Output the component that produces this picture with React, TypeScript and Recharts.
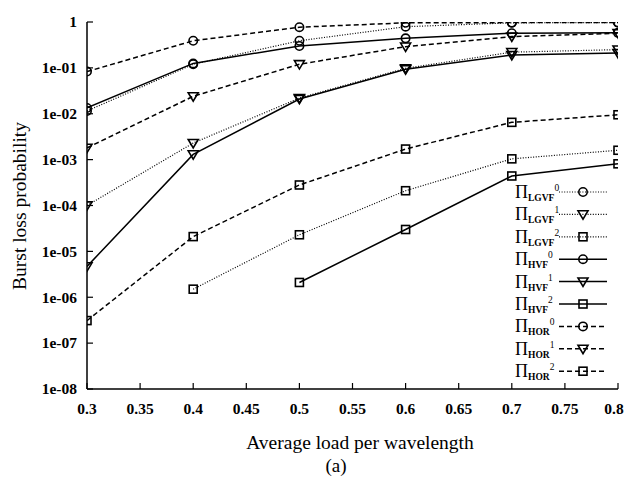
import React from 'react';
import { LineChart, Line, XAxis, YAxis, Customized } from 'recharts';

// ---------- data ----------
const loads = [0.3, 0.4, 0.5, 0.6, 0.7, 0.8];
const lgvf0 = [0.0115, 0.12, 0.39, 0.79, 0.96, 0.97];
const lgvf1 = [1.0e-4, 0.0023, 0.022, 0.098, 0.22, 0.25];
const lgvf2 = [null, 1.5e-6, 2.3e-5, 2.1e-4, 1.04e-3, 1.6e-3];
const hvf0 = [0.0134, 0.125, 0.3, 0.44, 0.57, 0.58];
const hvf1 = [4.7e-6, 0.0013, 0.021, 0.093, 0.19, 0.21];
const hvf2 = [null, null, 2.1e-6, 3.0e-5, 4.4e-4, 8.1e-4];
const hor0 = [0.083, 0.39, 0.77, 0.96, 0.97, 0.98];
const hor1 = [0.0018, 0.024, 0.12, 0.29, 0.48, 0.57];
const hor2 = [3.1e-7, 2.1e-5, 2.8e-4, 1.7e-3, 6.5e-3, 9.5e-3];

const xTicks = [0.3, 0.35, 0.4, 0.45, 0.5, 0.55, 0.6, 0.65, 0.7, 0.75, 0.8];
const xTickLabels = ['0.3', '0.35', '0.4', '0.45', '0.5', '0.55', '0.6', '0.65', '0.7', '0.75', '0.8'];
const yTicks = [1e-8, 1e-7, 1e-6, 1e-5, 1e-4, 1e-3, 1e-2, 1e-1, 1];
const yTickLabels = ['1e-08', '1e-07', '1e-06', '1e-05', '1e-04', '1e-03', '1e-02', '1e-01', '1'];
const minorMultipliers = [2, 3, 4, 5, 6, 7, 8, 9];
const yMinorTicks = yTicks.slice(0, -1).flatMap((d) => minorMultipliers.map((m) => m * d));

const xTitle = 'Average load per wavelength';
const yTitle = 'Burst loss probability';
const caption = '(a)';

type Style = 'dot' | 'solid' | 'dash';
type Marker = 'circle' | 'tri' | 'square';
const series: { key: string; sub: string; sup: string; style: Style; marker: Marker; values: (number | null)[] }[] = [
  { key: 'lgvf0', sub: 'LGVF', sup: '0', style: 'dot', marker: 'circle', values: lgvf0 },
  { key: 'lgvf1', sub: 'LGVF', sup: '1', style: 'dot', marker: 'tri', values: lgvf1 },
  { key: 'lgvf2', sub: 'LGVF', sup: '2', style: 'dot', marker: 'square', values: lgvf2 },
  { key: 'hvf0', sub: 'HVF', sup: '0', style: 'solid', marker: 'circle', values: hvf0 },
  { key: 'hvf1', sub: 'HVF', sup: '1', style: 'solid', marker: 'tri', values: hvf1 },
  { key: 'hvf2', sub: 'HVF', sup: '2', style: 'solid', marker: 'square', values: hvf2 },
  { key: 'hor0', sub: 'HOR', sup: '0', style: 'dash', marker: 'circle', values: hor0 },
  { key: 'hor1', sub: 'HOR', sup: '1', style: 'dash', marker: 'tri', values: hor1 },
  { key: 'hor2', sub: 'HOR', sup: '2', style: 'dash', marker: 'square', values: hor2 },
];

const data = loads.map((x, i) => {
  const row: Record<string, number | null> = { x };
  series.forEach((s) => {
    row[s.key] = s.values[i];
  });
  return row;
});

// ---------- styles ----------
const FONT = '"Liberation Serif", "Times New Roman", serif';
const TICK_SIZE = 15.5;
const dashFor = (s: Style) => (s === 'dot' ? '1 1.6' : s === 'dash' ? '5 3' : undefined);
const widthFor = (s: Style) => (s === 'dot' ? 1.2 : 1.5);

function MarkerShape({ kind, cx, cy }: { kind: Marker; cx: number; cy: number }) {
  const common = { fill: 'none', stroke: '#000', strokeWidth: 1.6 };
  if (kind === 'circle') return <circle cx={cx} cy={cy} r={4.2} {...common} />;
  if (kind === 'tri')
    return (
      <polygon
        points={`${cx - 5},${cy - 3.6} ${cx + 5},${cy - 3.6} ${cx},${cy + 4.8}`}
        {...common}
      />
    );
  return <rect x={cx - 4} y={cy - 4} width={8} height={8} {...common} />;
}

const makeDot = (kind: Marker, key: string) => (props: any) => {
  const { cx, cy, index, value } = props;
  if (cx == null || cy == null || value == null || Number.isNaN(cx) || Number.isNaN(cy)) {
    return <g key={`${key}-${index}`} />;
  }
  return (
    <g key={`${key}-${index}`}>
      <MarkerShape kind={kind} cx={cx} cy={cy} />
    </g>
  );
};

function XTick(props: any) {
  const { x, y, payload, index } = props;
  const label = xTickLabels[xTicks.indexOf(payload.value)] ?? String(payload.value);
  const isLast = index === xTicks.length - 1;
  return (
    <text
      x={isLast ? x - 4 : x}
      y={y}
      dy="0.71em"
      textAnchor="middle"
      fontFamily={FONT}
      fontSize={TICK_SIZE}
      fontWeight="bold"
      fill="#000"
    >
      {label}
    </text>
  );
}

function YTick(props: any) {
  const { x, y, payload } = props;
  const label = yTickLabels[yTicks.indexOf(payload.value)] ?? String(payload.value);
  return (
    <text
      x={x}
      y={y}
      dy="0.34em"
      textAnchor="end"
      fontFamily={FONT}
      fontSize={TICK_SIZE}
      fontWeight="bold"
      fill="#000"
    >
      {label}
    </text>
  );
}

function Overlay() {
  const rowY0 = 192;
  const rowStep = 22.4;
  return (
    <g fontFamily={FONT} fill="#000">
      {series.map((s, i) => {
        const y = rowY0 + i * rowStep;
        return (
          <g key={s.key}>
            <text x={515} y={y + 6} fontFamily={FONT}>
              <tspan fontSize={18}>Π</tspan>
              <tspan fontSize={9.5} fontWeight="bold" dy={3}>
                {s.sub}
              </tspan>
              <tspan fontSize={9.5} dy={-10}>
                {s.sup}
              </tspan>
            </text>
            <line
              x1={559}
              x2={607}
              y1={y}
              y2={y}
              stroke="#000"
              strokeWidth={widthFor(s.style)}
              strokeDasharray={dashFor(s.style)}
            />
            <MarkerShape kind={s.marker} cx={583} cy={y} />
          </g>
        );
      })}
      <text
        x={0}
        y={0}
        transform="translate(19,206) rotate(-90)"
        textAnchor="middle"
        dominantBaseline="central"
        fontSize={19.5}
        fontFamily={FONT}
      >
        {yTitle}
      </text>
      <text x={360} y={449} textAnchor="middle" fontSize={19.5} fontFamily={FONT}>
        {xTitle}
      </text>
      <text x={336} y={472} textAnchor="middle" fontSize={19} fontFamily={FONT}>
        {caption}
      </text>
    </g>
  );
}

const axisLine = { stroke: '#000', strokeWidth: 1.5 };
const tickLine = { stroke: '#000', strokeWidth: 1.2 };

export default function App() {
  return (
    <div style={{ position: 'absolute', left: 0, top: 0, background: '#fff', fontFamily: FONT }}>
      <LineChart width={624} height={482} data={data} margin={{ top: 22, right: 6, left: 0, bottom: 0 }}>
        <XAxis
          xAxisId="main"
          dataKey="x"
          type="number"
          domain={[0.3, 0.8]}
          allowDataOverflow
          ticks={xTicks}
          height={93}
          tickSize={-6}
          tickMargin={20}
          axisLine={axisLine}
          tickLine={tickLine}
          tick={<XTick />}
          interval={0}
        />
        <XAxis
          xAxisId="top"
          orientation="top"
          dataKey="x"
          type="number"
          domain={[0.3, 0.8]}
          allowDataOverflow
          ticks={xTicks}
          height={0}
          tickSize={-6}
          tickFormatter={() => ''}
          axisLine={axisLine}
          tickLine={tickLine}
          interval={0}
        />
        <YAxis
          yAxisId="main"
          scale="log"
          type="number"
          domain={[1e-8, 1]}
          allowDataOverflow
          ticks={yTicks}
          width={87}
          tickSize={-6}
          tickMargin={16}
          axisLine={axisLine}
          tickLine={tickLine}
          tick={<YTick />}
          interval={0}
        />
        <YAxis
          yAxisId="leftMinor"
          scale="log"
          type="number"
          domain={[1e-8, 1]}
          allowDataOverflow
          ticks={yMinorTicks}
          mirror
          width={0}
          tickSize={3}
          tickFormatter={() => ''}
          axisLine={false}
          tickLine={tickLine}
          interval={0}
        />
        <YAxis
          yAxisId="right"
          orientation="right"
          scale="log"
          type="number"
          domain={[1e-8, 1]}
          allowDataOverflow
          ticks={yTicks}
          width={0}
          tickSize={-6}
          tickFormatter={() => ''}
          axisLine={axisLine}
          tickLine={tickLine}
          interval={0}
        />
        <YAxis
          yAxisId="rightMinor"
          orientation="right"
          scale="log"
          type="number"
          domain={[1e-8, 1]}
          allowDataOverflow
          ticks={yMinorTicks}
          width={0}
          tickSize={-3}
          tickFormatter={() => ''}
          axisLine={false}
          tickLine={tickLine}
          interval={0}
        />
        {series.map((s) => (
          <Line
            key={s.key}
            xAxisId="main"
            yAxisId="main"
            dataKey={s.key}
            type="linear"
            stroke="#000"
            strokeWidth={widthFor(s.style)}
            strokeDasharray={dashFor(s.style)}
            dot={makeDot(s.marker, s.key)}
            activeDot={false}
            isAnimationActive={false}
            connectNulls={false}
          />
        ))}
        <Customized component={Overlay} />
      </LineChart>
    </div>
  );
}
